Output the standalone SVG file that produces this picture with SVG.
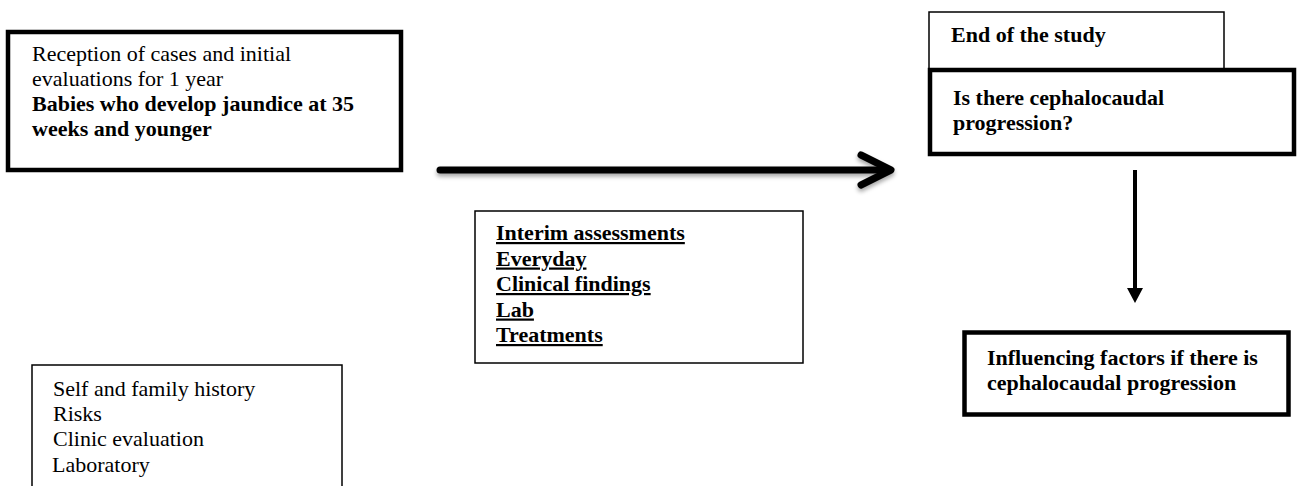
<svg xmlns="http://www.w3.org/2000/svg" width="1298" height="486" viewBox="0 0 1298 486">
<style>
text{font-family:"Liberation Serif","Times New Roman",serif;font-size:22px;fill:#000}
.b{font-weight:bold}
.u{text-decoration:underline}
.thin{fill:#fff;stroke:#000;stroke-width:1.5}
.thick{fill:#fff;stroke:#000;stroke-width:4.5}
</style>
<defs>
<filter id="sh" x="-5%" y="-50%" width="110%" height="200%">
<feDropShadow dx="0" dy="3" stdDeviation="2" flood-color="#000" flood-opacity="0.35"/>
</filter>
</defs>
<rect width="1298" height="486" fill="#fff"/>
<g id="node-reception">
<rect class="thick" x="8" y="32" width="393" height="138"/>
<text x="32" y="61">Reception of cases and initial</text>
<text x="32" y="86">evaluations for 1 year</text>
<text class="b" x="32" y="111">Babies who develop jaundice at 35</text>
<text class="b" x="32" y="136">weeks and younger</text>
</g>
<g id="node-interim">
<rect class="thin" x="475" y="211" width="328" height="152"/>
<text class="b u" x="496" y="240">Interim assessments</text>
<text class="b u" x="496" y="265.5">Everyday</text>
<text class="b u" x="496" y="291">Clinical findings</text>
<text class="b u" x="496" y="316.5">Lab</text>
<text class="b u" x="496" y="342">Treatments</text>
</g>
<g id="node-end">
<rect class="thin" x="929" y="12" width="295" height="62"/>
<text class="b" x="951" y="42">End of the study</text>
</g>
<g id="node-question">
<rect class="thick" x="930" y="70" width="364" height="84"/>
<text class="b" x="953" y="104.5">Is there cephalocaudal</text>
<text class="b" x="953" y="130">progression?</text>
</g>
<g id="node-factors">
<rect class="thick" x="964.5" y="332.5" width="324" height="82"/>
<text class="b" x="987" y="365">Influencing factors if there is</text>
<text class="b" x="987" y="390">cephalocaudal progression</text>
</g>
<g id="node-history">
<rect class="thin" x="32" y="365" width="310" height="140"/>
<text x="53" y="396">Self and family history</text>
<text x="53" y="421">Risks</text>
<text x="53" y="446">Clinic evaluation</text>
<text x="52" y="472">Laboratory</text>
</g>
<g id="connectors">
<g filter="url(#sh)" stroke="#000" stroke-width="7" stroke-linecap="round" stroke-linejoin="round" fill="none">
<line x1="440" y1="170" x2="889" y2="170"/>
<polyline points="861,155 891,170 861,185"/>
</g>
<line x1="1135" y1="170" x2="1135" y2="290" stroke="#000" stroke-width="4"/>
<polygon points="1127,288 1143,288 1135,303" fill="#000"/>
</g>
</svg>
